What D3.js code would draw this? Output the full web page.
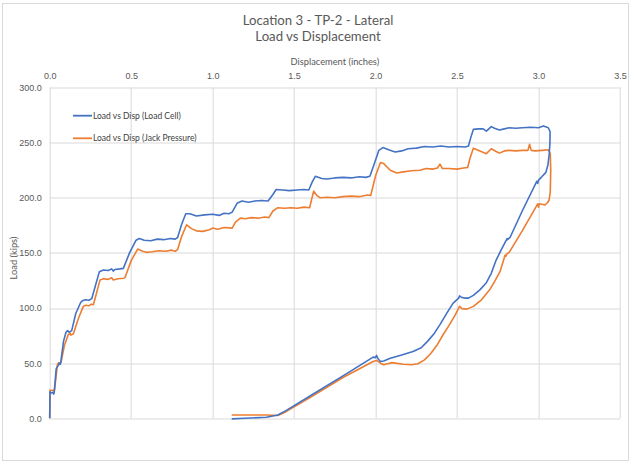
<!DOCTYPE html>
<meta charset="utf-8">
<html>
<head>
  <title>Location 3 - TP-2 - Lateral</title>
  <style>
    body {
      margin: 0;
      background: #ffffff;
    }
    svg {
      width: 632px;
      height: 464px;
      font-family: Lato, 'Open Sans', sans-serif;
    }
    .title {
      fill: #595959;
      font-size: 13.2px;
      text-anchor: middle;
    }
    .axislabel {
      fill: #595959;
      font-size: 9.3px;
      text-anchor: middle;
    }
    .ticklabel {
      fill: #595959;
      font-size: 9px;
    }
    .grid line {
      stroke: #d9d9d9;
      stroke-width: 1;
    }
    .legend text {
      fill: #404040;
      font-size: 8.5px;
    }
  </style>
  <script src="https://d3js.org/d3.v7.min.js"></script>
</head>
<body>

  <svg></svg>

  <script>

    // tick labels
    var xTicks = [0, 0.5, 1.0, 1.5, 2.0, 2.5, 3.0, 3.5];
    var yTicks = [0, 50, 100, 150, 200, 250, 300];

    // series names
    var seriesNames = ["Load vs Disp (Load Cell)", "Load vs Disp (Jack Pressure)"];

    // Load Cell: displacement (in) and load (kips), loading then unloading
    var cellDisp = [0, 0.002, 0.01, 0.02, 0.025, 0.028, 0.04, 0.053, 0.06, 0.065, 0.068, 0.085, 0.1, 0.11, 0.12, 0.13, 0.135,
      0.16, 0.19, 0.2, 0.22, 0.24, 0.258, 0.28, 0.305, 0.33, 0.36, 0.38, 0.39, 0.4, 0.43, 0.452,
      0.49, 0.53, 0.55, 0.58, 0.62, 0.66, 0.7, 0.74, 0.77, 0.785, 0.81, 0.835, 0.86, 0.9, 0.95, 1.0, 1.04, 1.07, 1.1, 1.12,
      1.15, 1.18, 1.22, 1.26, 1.3, 1.34, 1.37, 1.39, 1.43, 1.47, 1.52, 1.56, 1.59, 1.61, 1.63, 1.67, 1.7, 1.75, 1.8, 1.85,
      1.9, 1.94, 1.965, 1.99, 2.02, 2.045, 2.08, 2.12, 2.16, 2.2, 2.25, 2.3, 2.35, 2.4, 2.45, 2.5, 2.55, 2.57, 2.585, 2.6,
      2.63, 2.66, 2.68, 2.71, 2.73, 2.76, 2.79, 2.82, 2.86, 2.9, 2.95, 3.0, 3.03, 3.06, 3.071,
      3.07, 3.066, 3.058, 3.045, 3.02, 3.0, 2.995, 2.99, 2.9, 2.825, 2.81, 2.807, 2.77, 2.74, 2.71, 2.68, 2.64, 2.6, 2.57,
      2.55, 2.53, 2.515, 2.51, 2.476, 2.44, 2.395, 2.36, 2.32, 2.28, 2.23, 2.15, 2.09, 2.05, 2.03, 2.015, 2.006, 2.0, 1.985,
      1.8, 1.6, 1.45, 1.4, 1.33, 1.2, 1.117];
    var cellLoad = [0, 24, 23, 23.5, 22, 24, 45, 48, 50, 49, 51, 70, 78, 79.5, 78, 79, 79.5,
      95, 105, 106.5, 107.5, 107, 108.5, 120, 133, 134.5, 134, 135.5, 133.5, 135, 135.5, 136,
      150, 161.5, 163, 161.5, 161, 162.5, 162, 163, 162.5, 164, 176, 185.5, 185.5, 183.5, 184.5, 185, 184, 186, 185.5, 187,
      195, 197, 196, 197, 197.5, 197, 203, 207.5, 207, 206.5, 207, 207.5, 207, 214, 219.5, 217.5, 217, 218, 218.5, 218,
      219, 218.5, 219.5, 230, 243, 245.5, 243.5, 241.5, 242.5, 244.5, 245, 246.5, 246, 247, 246, 246.5, 246, 247, 255, 262,
      262.5, 262.5, 260.5, 264.5, 263, 261.5, 262.5, 263.5, 263, 263.5, 264, 263.5, 265, 263.5, 260,
      250, 240, 230, 223, 219, 216, 213, 215, 188, 164, 162, 163, 152.5, 143.5, 131.5, 123, 116.5, 111.5, 109,
      109, 109.5, 111, 109, 104.5, 96, 85, 77, 70, 64, 60.5, 57, 54.5, 52, 51.5, 54, 57, 55, 55.5,
      38.5, 20.5, 7, 3, 1, 0, -0.5];

    // Jack Pressure: displacement (in) and load (kips), loading then unloading
    var jackDisp = [0, 0.002, 0.012, 0.02, 0.03, 0.047, 0.055, 0.063, 0.07, 0.09, 0.114, 0.125, 0.13, 0.145,
      0.175, 0.206, 0.22, 0.24, 0.255, 0.268, 0.29, 0.309, 0.33, 0.36, 0.38, 0.39, 0.42, 0.455, 0.463,
      0.5, 0.54, 0.57, 0.595, 0.63, 0.67, 0.71, 0.75, 0.77, 0.785, 0.81, 0.84, 0.87, 0.9, 0.94, 0.98, 1.0, 1.03, 1.07, 1.12,
      1.14, 1.17, 1.2, 1.24, 1.28, 1.32, 1.345, 1.37, 1.4, 1.44, 1.48, 1.52, 1.56, 1.595, 1.61, 1.62, 1.64, 1.66, 1.7, 1.75,
      1.8, 1.85, 1.9, 1.95, 1.97, 2.0, 2.03, 2.05, 2.09, 2.13, 2.17, 2.22, 2.27, 2.31, 2.35, 2.38, 2.395, 2.41, 2.45, 2.5,
      2.54, 2.565, 2.58, 2.6, 2.64, 2.68, 2.71, 2.74, 2.76, 2.79, 2.82, 2.86, 2.9, 2.935, 2.945, 2.955, 2.98, 3.02, 3.06, 3.072,
      3.075, 3.072, 3.065, 3.055, 3.04, 3.005, 3.0, 2.995, 2.9, 2.82, 2.805, 2.8, 2.795, 2.765, 2.73, 2.7, 2.65, 2.6, 2.56,
      2.53, 2.515, 2.51, 2.49, 2.45, 2.415, 2.38, 2.34, 2.3, 2.26, 2.22, 2.17, 2.1, 2.075, 2.05, 2.03, 2.006, 1.985,
      1.8, 1.6, 1.45, 1.4, 1.33, 1.2, 1.117];
    var jackLoad = [0, 25.5, 25.5, 25, 26, 48.5, 50.5, 50, 51, 66, 76, 77, 75.5, 76.5,
      90, 101.5, 102.5, 102, 103.5, 103, 115, 125.5, 126.5, 126, 127.5, 125.5, 126.5, 127, 128,
      143, 153.5, 151.5, 150.5, 151, 152, 151.5, 152.5, 151.5, 153, 165, 175.5, 172, 170, 169.5, 171, 172.5, 171.5, 173, 172.5,
      178, 181.5, 181, 182, 181.5, 182.5, 182, 188, 191, 190.5, 191, 190.5, 191.5, 191, 200, 206, 202, 200, 200.5, 200,
      201, 201.5, 201, 202.5, 202, 220, 232, 231, 225, 222.5, 223.5, 224.5, 225, 226.5, 226, 227, 230.5, 226.5, 226.5, 226,
      227, 227.5, 236, 245, 242.5, 240, 244.5, 242, 240.5, 242.5, 243, 242.5, 243, 243, 248.5, 243, 242.5, 243, 243.5, 240,
      225, 205, 198, 195.5, 193.5, 194.5, 191.5, 194.5, 170, 150.5, 149, 147, 148, 133.5, 124, 116.5, 107.5, 101.5, 99,
      99.5, 101.5, 100, 94, 84, 76, 67, 59, 53, 49.5, 48.5, 49, 50.5, 49.5, 48.5, 50, 52.5, 51.5,
      37, 19, 6, 2.5, 3, 3, 3];

    var colors = ["#4472c4", "#ed7d31"];

    var svg = d3.select("svg");

    // plot area inside the chart frame
    var margin = {top: 87.5, right: 12, bottom: 45.7, left: 49.7};
    var width = 632 - margin.left - margin.right;
    var height = 464 - margin.top - margin.bottom;

    var x = d3.scaleLinear().domain([0, 3.5]).range([0, width]);
    var y = d3.scaleLinear().domain([0, 300]).range([height, 0]);

    // chart border
    svg.append("rect")
      .attr("x", 2.5).attr("y", 3.5)
      .attr("width", 626).attr("height", 457)
      .attr("fill", "#ffffff")
      .attr("stroke", "#d9d9d9");

    // titles
    svg.append("text").attr("class", "title")
      .attr("x", 318).attr("y", 25)
      .text("Location 3 - TP-2 - Lateral");
    svg.append("text").attr("class", "title")
      .attr("x", 318).attr("y", 41)
      .text("Load vs Displacement");

    var g = svg.append("g")
      .attr("transform", "translate(" + margin.left + "," + margin.top + ")");

    // gridlines
    var grid = g.append("g").attr("class", "grid");
    grid.selectAll(".gx").data(xTicks).enter().append("line")
      .attr("x1", function(d) { return Math.round(x(d)) + 0.5; })
      .attr("x2", function(d) { return Math.round(x(d)) + 0.5; })
      .attr("y1", 0).attr("y2", height);
    grid.selectAll(".gy").data(yTicks).enter().append("line")
      .attr("x1", 0).attr("x2", width)
      .attr("y1", function(d) { return Math.round(y(d)) + 0.5; })
      .attr("y2", function(d) { return Math.round(y(d)) + 0.5; });

    // x axis on top, only the labels are shown
    var xAxis = g.append("g")
      .call(d3.axisTop(x).tickValues(xTicks).tickFormat(d3.format(".1f")).tickSize(0).tickPadding(9));
    xAxis.select(".domain").remove();
    xAxis.selectAll("text").attr("class", "ticklabel").attr("fill", null);

    // y axis on the left
    var yAxis = g.append("g")
      .call(d3.axisLeft(y).tickValues(yTicks).tickFormat(d3.format(".1f")).tickSize(0).tickPadding(8));
    yAxis.select(".domain").remove();
    yAxis.selectAll("text").attr("class", "ticklabel").attr("fill", null);

    // axis titles
    svg.append("text").attr("class", "axislabel")
      .attr("x", margin.left + width / 2).attr("y", 65)
      .text("Displacement (inches)");
    svg.append("text").attr("class", "axislabel")
      .attr("transform", "translate(17," + 258 + ") rotate(-90)")
      .text("Load (kips)");

    // build point tables for the two series
    var series = [
      d3.zip(cellDisp, cellLoad),
      d3.zip(jackDisp, jackLoad)
    ];

    var line = d3.line()
      .x(function(d) { return x(d[0]); })
      .y(function(d) { return y(d[1]); });

    // orange drawn first so blue sits on top, as in the original
    g.selectAll(".series")
      .data([1, 0])
      .enter().append("path")
        .attr("d", function(i) { return line(series[i]); })
        .attr("fill", "none")
        .attr("stroke", function(i) { return colors[i]; })
        .attr("stroke-width", 1.6)
        .attr("stroke-linejoin", "round");

    // legend
    var legend = svg.append("g").attr("class", "legend");
    seriesNames.forEach(function(name, i) {
      var ly = 115.7 + i * 22.6;
      legend.append("line")
        .attr("x1", 73).attr("x2", 92)
        .attr("y1", ly).attr("y2", ly)
        .attr("stroke", colors[i]).attr("stroke-width", 1.8);
      legend.append("text")
        .attr("x", 93).attr("y", ly + 3)
        .text(name);
    });

  </script>

</body>
</html>
